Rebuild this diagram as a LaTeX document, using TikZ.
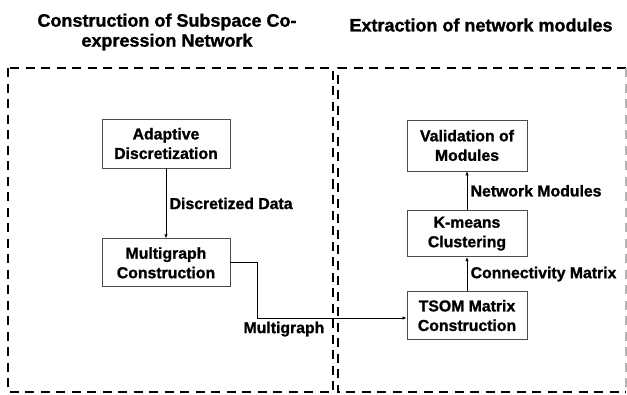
\documentclass[tikz,border=0pt]{standalone}
\usepackage{fontspec}
\setmainfont{Liberation Sans}[BoldFeatures={FakeBold=1.2}]
\usetikzlibrary{positioning,arrows.meta}

\begin{document}
\begin{tikzpicture}[
    x=1bp, y=-1bp,
    node distance=36bp,
    stage/.style={
        draw=black!70,
        line width=0.8bp,
        minimum width=120bp,
        minimum height=48bp,
        inner sep=2bp,
        align=center,
        font=\bfseries\fontsize{15.8bp}{19.5bp}\selectfont
    },
    flow/.style={font=\bfseries\fontsize{15.8bp}{19.5bp}\selectfont},
    heading/.style={align=center, font=\bfseries\fontsize{18bp}{20bp}\selectfont},
    panel/.style={line width=2.6bp, dash pattern=on 9bp off 6.5bp},
    >={Latex[length=4bp,width=3.5bp]}
]
\useasboundingbox (0,0) rectangle (627,394);

% column titles
\node[heading] (lefttitle) at (167,32)
{Construction of Subspace Co-\\expression Network};
\node[heading] (righttitle) at (481,25)
{Extraction of network modules};

% dashed panels
\draw[panel] (8,68) rectangle (333,392);
\draw[panel] (626,68) -- (338,68) -- (338,392) -- (626,392);
\draw[panel, line width=1.4bp, black!30] (626,68) -- (626,392);

% left column
\node[stage, minimum width=128bp, minimum height=49bp] (adaptive) at (166,143.5)
{Adaptive\\Discretization};

\node[stage, minimum width=128bp, below=70bp of adaptive] (multigraph)
{Multigraph\\Construction};

% right column
\node[stage] (tsom) at (467,315.5)
{TSOM Matrix\\Construction};

\node[stage, minimum height=46bp, above=34bp of tsom] (kmeans)
{K-means\\Clustering};

\node[stage, minimum height=51bp, above=39bp of kmeans] (validation)
{Validation of\\Modules};

\coordinate (knee) at (257,318);

\draw[->, line width=0.7bp] (adaptive) -- node[flow, right] {Discretized Data} (multigraph);
\draw[->, line width=0.7bp] (multigraph.east) -| (knee)
    -- node[flow, below, pos=0.18] {Multigraph} (knee -| tsom.west);
\draw[->, line width=0.7bp] (tsom) -- node[flow, right] {Connectivity Matrix} (kmeans);
\draw[->, line width=0.7bp] (kmeans) -- node[flow, right] {Network Modules} (validation);

\end{tikzpicture}
\end{document}
